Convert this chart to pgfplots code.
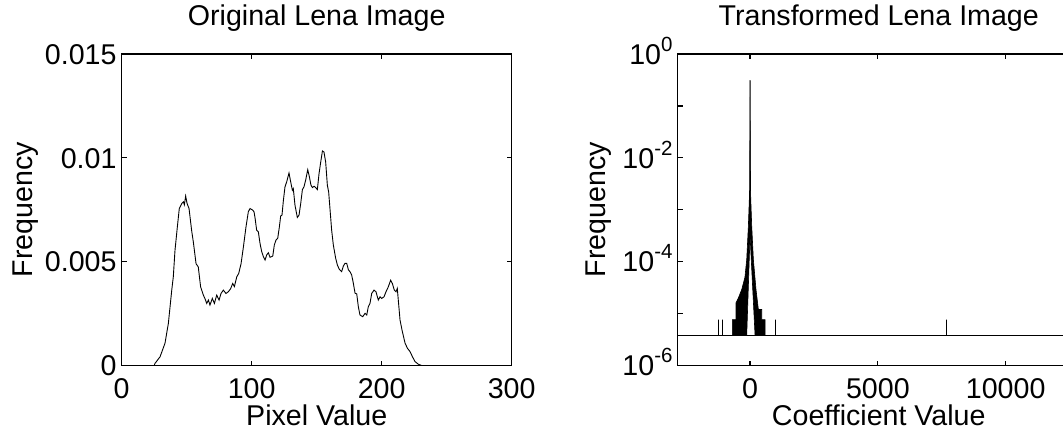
\documentclass[border=0pt]{standalone}
\usepackage{fontspec}
\setmainfont{Liberation Sans}
\usepackage{pgfplots}
\pgfplotsset{compat=1.18}
\newcommand{\fs}{\fontsize{28.6}{34}\selectfont}
\newcommand{\ex}[1]{10\raisebox{13pt}{\fontsize{20.5}{24}\selectfont #1}}
\pgfplotsset{
  matstyle/.style={
    scale only axis,
    axis line style={line width=1.2pt, black},
    every tick/.style={black, line width=1.2pt},
    tick align=inside,
    major tick length=5pt, minor tick length=5pt,
    font=\fs,
    title style={at={(axis description cs:0.5,1.0716)}, anchor=base, font=\fs, inner sep=0pt},
    xlabel style={at={(axis description cs:0.5,-0.1935)}, anchor=base, font=\fs, inner sep=0pt},
    xticklabel style={anchor=base, yshift=-32.8pt, inner sep=0pt, font=\fs},
    yticklabel style={anchor=base east, xshift=-5pt, yshift=-10.2pt, inner sep=0pt, font=\fs},
    scaled x ticks=false, scaled y ticks=false,
  }
}
\begin{document}
\begin{tikzpicture}[x=1pt,y=1pt]
\begin{axis}[matstyle,
  at={(121.7pt,66.5pt)}, anchor=south west,
  width=390pt, height=311.5pt,
  xmin=0, xmax=300, ymin=0, ymax=0.015,
  xtick={0,100,200,300}, xticklabels={0,100,200,300},
  ytick={0,0.005,0.01,0.015}, yticklabels={0,0.005,0.01,0.015},
  title={Original Lena Image},
  xlabel={Pixel Value}, ylabel={Frequency},
  ylabel style={at={(axis description cs:-0.2300,0.5)}, anchor=base, inner sep=0pt, font=\fs},
]
\addplot[black, line width=0.9pt] coordinates {
(0,0) (25,0) (25.6,0.0001) (29.5,0.00042) (33.3,0.00107) (35.9,0.00203) (38.5,0.00363)
(39.7,0.00427) (41,0.00555) (42.8,0.00667) (44.3,0.00756) (46.2,0.0078) (47.5,0.00788)
(48.2,0.00774) (49.2,0.00816) (50.3,0.0078) (51.8,0.00756) (53.8,0.0065) (55.1,0.00595)
(57.2,0.0049) (58.9,0.00475) (60.7,0.00379) (62.8,0.00339) (64,0.00323) (65.4,0.00299)
(66.7,0.00315) (67.9,0.00291) (69.7,0.00323) (71.3,0.00299) (73.1,0.00339) (74.9,0.00315)
(76.4,0.00347) (78.2,0.00363) (80.2,0.00347) (82,0.00355) (83.8,0.0037) (85.4,0.00395)
(86.7,0.0038) (88.5,0.00427) (90,0.00443) (91.8,0.0049) (93.6,0.0057) (95.6,0.00667)
(97.4,0.0074) (98.7,0.00756) (100.8,0.00748) (101.8,0.0074) (102.6,0.0071) (103.8,0.00652)
(105.1,0.00644) (106.4,0.00588) (107.7,0.00548) (109,0.00524) (110.3,0.00508) (111.5,0.00532)
(112.8,0.00543) (114.1,0.00521) (116.2,0.00527) (117.4,0.0058) (118.7,0.00604) (120,0.00612)
(121.3,0.00668) (122.3,0.0072) (123.3,0.00724) (124.4,0.00796) (125.6,0.0086) (126.9,0.00884)
(128.7,0.00927) (130,0.00884) (131.3,0.00844) (132,0.00852) (133.3,0.00772) (135.1,0.00713)
(136.4,0.00724) (137.7,0.0078) (139,0.00847) (140.2,0.0086) (141.5,0.00892) (143.1,0.00943)
(144.4,0.00908) (145.6,0.00868) (146.7,0.00857) (148,0.00863) (149.2,0.00857) (150.5,0.00847)
(151.8,0.00924) (153.1,0.0098) (154.4,0.01033) (155.6,0.01028) (156.9,0.0098) (158.2,0.00868)
(159.2,0.00836) (160.3,0.00748) (161.5,0.00652) (162.8,0.0058) (164.6,0.00516) (165.9,0.00484)
(167.4,0.00463) (169.2,0.00452) (170.5,0.00479) (171.8,0.00492) (173.1,0.00492) (174.4,0.0046)
(175.6,0.00452) (176.9,0.00436) (178.2,0.00396) (179.5,0.00348) (180.8,0.00345) (182,0.00284)
(183.3,0.00243) (185.4,0.00235) (187.2,0.00251) (188.5,0.00243) (189.7,0.00283) (191,0.00299)
(192.3,0.00347) (194.1,0.00363) (195.6,0.00355) (197.4,0.00315) (198.7,0.00331) (200,0.00323)
(201.8,0.00331) (203.3,0.00355) (205.1,0.00379) (206.9,0.00411) (208.2,0.00395) (209.7,0.00363)
(211,0.00355) (212,0.00371) (213.1,0.00291) (214.1,0.00219) (215.9,0.00163) (218,0.00107)
(219.8,0.00083) (221.8,0.00067) (223.6,0.00043) (225.6,0.00019) (228.2,0.00006) (230.8,0)
(255,0)
};
\end{axis}
\begin{axis}[matstyle,
  at={(677.7pt,66.5pt)}, anchor=south west,
  width=402.1pt, height=311.5pt,
  xmin=-2830, xmax=12900, ymin=1e-6, ymax=1, ymode=log,
  xtick={0,5000,10000}, xticklabels={0,5000,10000},
  ytick={1e-6,1e-4,1e-2,1}, yticklabels={\ex{-6},\ex{-4},\ex{-2},\ex{0}},
  minor ytick={1e-5,1e-3,1e-1},
  title={Transformed Lena Image},
  xlabel={Coefficient Value}, ylabel={Frequency},
  ylabel style={at={(axis description cs:-0.1790,0.5)}, anchor=base, inner sep=0pt, font=\fs},
]
% baseline with isolated spikes
\addplot[black, line width=0.9pt] coordinates {
(-3000,3.815e-6) (-1240,3.815e-6) (-1240,7.63e-6) (-1240,3.815e-6)
(-1083,3.815e-6) (-1083,7.63e-6) (-1083,3.815e-6)
(979,3.815e-6) (979,7.63e-6) (979,3.815e-6)
(7690,3.815e-6) (7690,7.63e-6) (7690,3.815e-6) (14000,3.815e-6)
};
% dense left part of the histogram
\addplot[black, fill=black, line width=0.6pt] coordinates {
(-692,3.815e-6) (-692,7.63e-6) (-548,7.63e-6) (-548,1.62e-5) (-457,2.0e-5)
(-326,2.9e-5) (-200,5e-5) (-130,1.1e-4) (-65,4.9e-4) (-20,2.1e-3) (-3,0.1) (0,0.31)
(0,3.2e-4) (-130,3.815e-6)
};
% dense right part of the histogram
\addplot[black, fill=black, line width=0.6pt] coordinates {
(0,0.31) (3,0.1) (20,2.1e-3) (65,4.9e-4) (130,1.1e-4) (230,3e-5) (326,1.2e-5)
(457,1.2e-5) (457,7.63e-6) (590,7.63e-6) (590,3.815e-6) (196,3.815e-6) (0,3.2e-4)
};
\end{axis}
\pgfresetboundingbox
\useasboundingbox (0,0) rectangle (1063,432);
\end{tikzpicture}
\end{document}
